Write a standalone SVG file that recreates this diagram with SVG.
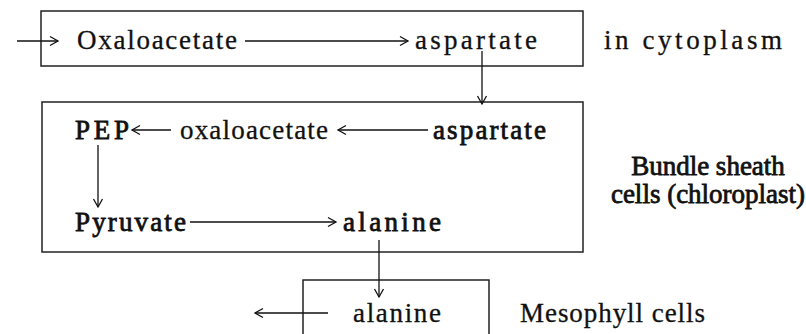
<svg xmlns="http://www.w3.org/2000/svg" width="806" height="334" viewBox="0 0 806 334">
<style>
text{font-family:"Liberation Serif","Times New Roman",serif;font-size:27px;fill:#111;stroke:#111;stroke-width:0.3}
.hv{stroke-width:0.8}
.box{fill:none;stroke:#222;stroke-width:1.5}
.c{fill:none;stroke:#111;stroke-width:1.3}
</style>
<defs>
<marker id="ah" markerUnits="userSpaceOnUse" markerWidth="12" markerHeight="12" refX="9" refY="5" orient="auto" overflow="visible">
<path d="M1,0.5 L9,5 L1,9.5" fill="none" stroke="#111" stroke-width="1.3"/>
</marker>
</defs>
<rect width="806" height="334" fill="#fff"/>
<g id="cytoplasm">
<rect class="box" x="41" y="11" width="542" height="55"/>
<text x="77" y="49" textLength="160" lengthAdjust="spacing">Oxaloacetate</text>
<text x="415" y="49" textLength="122" lengthAdjust="spacing">aspartate</text>
<text x="604" y="49" textLength="178" lengthAdjust="spacing">in cytoplasm</text>
</g>
<g id="bundle-sheath">
<rect class="box" x="42" y="102" width="541" height="150"/>
<text class="hv" x="75" y="139" textLength="54" lengthAdjust="spacing">PEP</text>
<text x="180" y="139" textLength="148" lengthAdjust="spacing">oxaloacetate</text>
<text class="hv" x="433" y="139" textLength="113" lengthAdjust="spacing">aspartate</text>
<text class="hv" x="75" y="231" textLength="111" lengthAdjust="spacing">Pyruvate</text>
<text class="hv" x="343" y="231" textLength="98" lengthAdjust="spacing">alanine</text>
<text class="hv" x="708" y="175" text-anchor="middle">Bundle sheath</text>
<text class="hv" x="708" y="203" text-anchor="middle">cells (chloroplast)</text>
</g>
<g id="mesophyll">
<path class="box" d="M303,334 V280 H489 V334"/>
<text x="353" y="322" textLength="88" lengthAdjust="spacing">alanine</text>
<text x="520" y="322" textLength="185" lengthAdjust="spacing">Mesophyll cells</text>
</g>
<g id="connectors">
<path class="c" d="M17,41 H58" marker-end="url(#ah)"/>
<path class="c" d="M245,41 H408" marker-end="url(#ah)"/>
<path class="c" d="M482,51 V104" marker-end="url(#ah)"/>
<path class="c" d="M428,130 H338" marker-end="url(#ah)"/>
<path class="c" d="M171,130 H132" marker-end="url(#ah)"/>
<path class="c" d="M98,145 V207" marker-end="url(#ah)"/>
<path class="c" d="M190,222 H336" marker-end="url(#ah)"/>
<path class="c" d="M379,240 V297" marker-end="url(#ah)"/>
<path class="c" d="M328,313 H255" marker-end="url(#ah)"/>
</g>
</svg>
